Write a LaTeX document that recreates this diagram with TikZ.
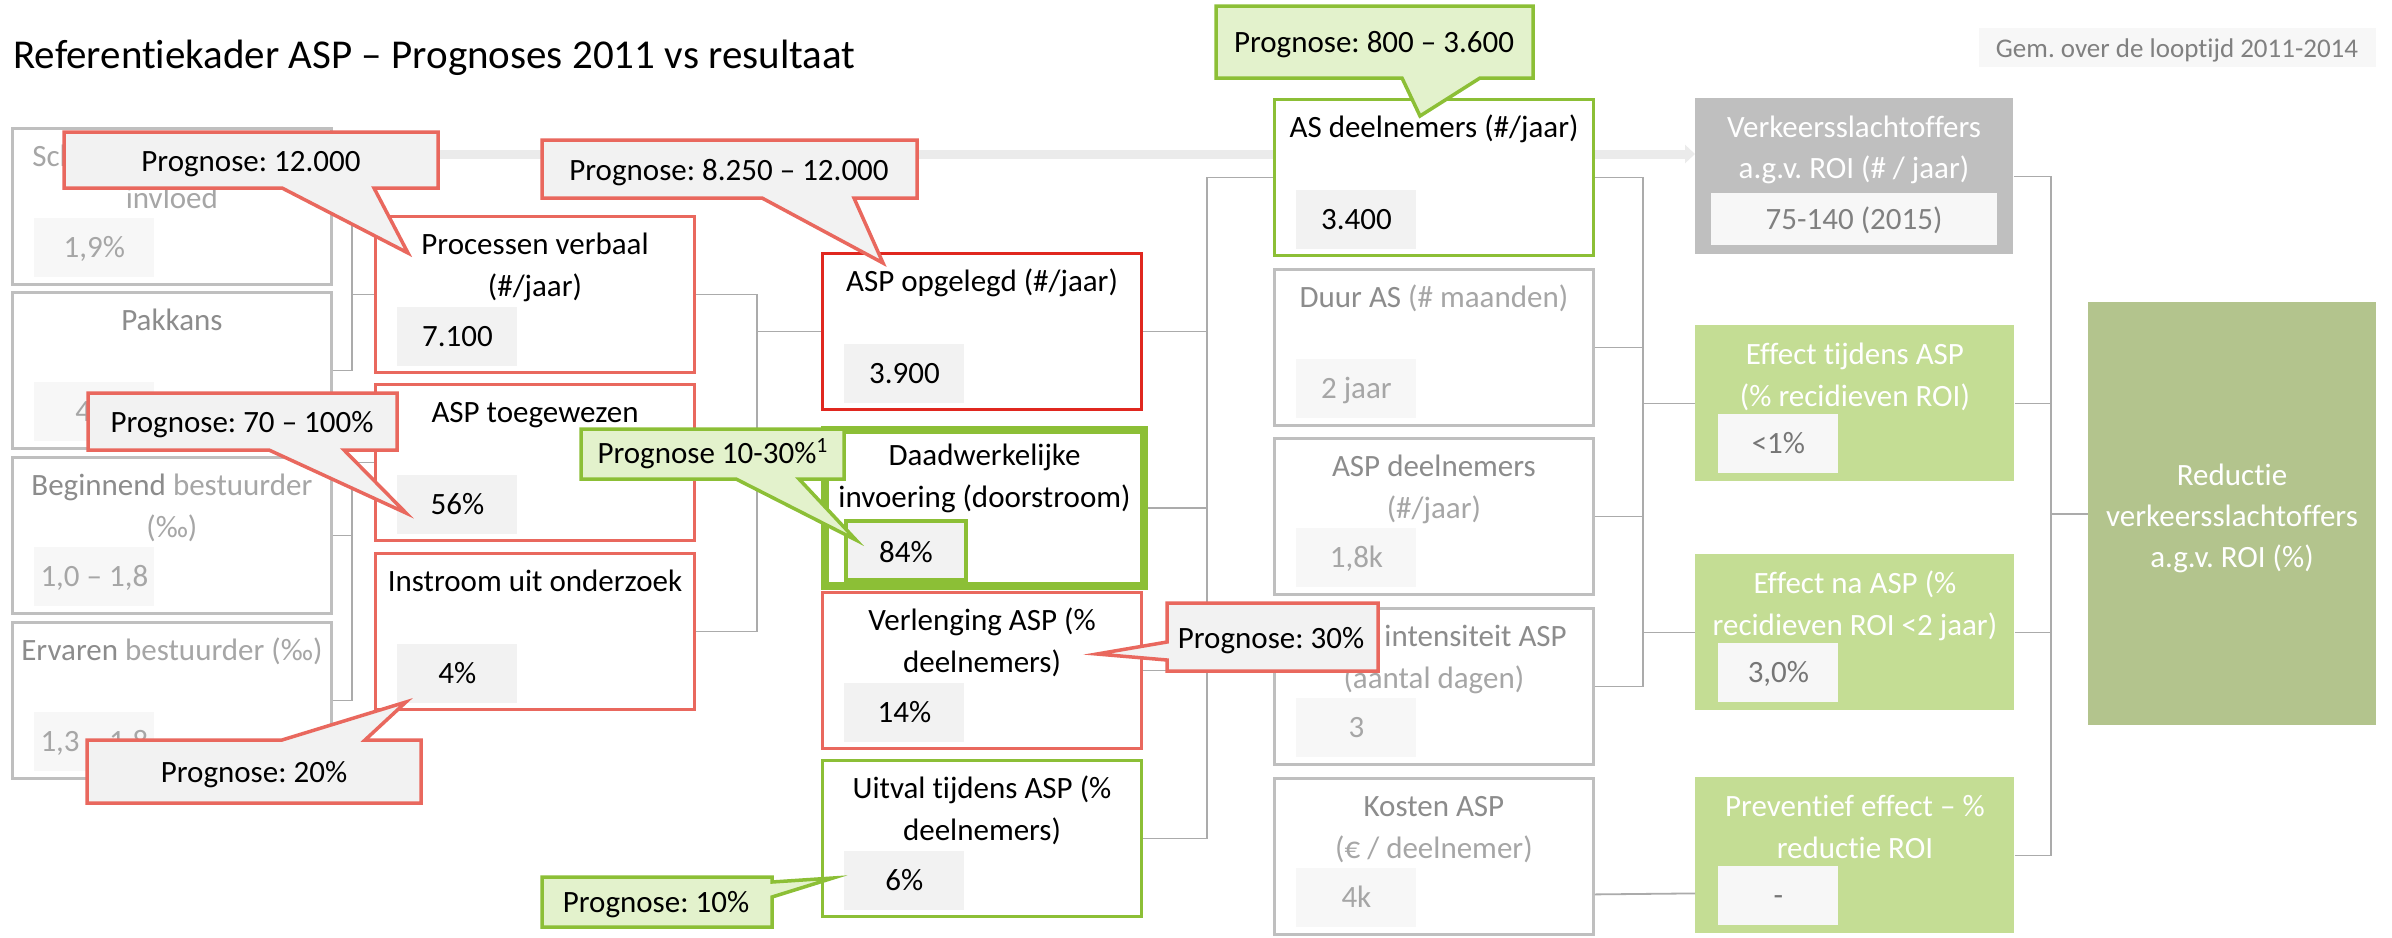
\documentclass[tikz,border=0pt]{standalone}
\usepackage{fontspec}
\setmainfont{Carlito}[Ligatures=NoCommon]
\usetikzlibrary{calc,arrows.meta}
\frenchspacing
\definecolor{bgray}{HTML}{BFBFBF}
\definecolor{lgray}{HTML}{A6A6A6}
\definecolor{dgray}{HTML}{8C8C8C}
\definecolor{cora}{HTML}{E9685E}
\definecolor{dred}{HTML}{E0271F}
\definecolor{grn}{HTML}{8CBF36}
\definecolor{cfill}{HTML}{F2F2F2}
\definecolor{vfill}{HTML}{F7F7F7}
\definecolor{gfill}{HTML}{E3F2CC}
\definecolor{effg}{HTML}{C4DD94}
\definecolor{redg}{HTML}{B3C48D}
\definecolor{linec}{HTML}{ABABAB}
\definecolor{barc}{HTML}{EBEBEB}
\definecolor{vtxt}{HTML}{767676}
\definecolor{legt}{HTML}{808080}
\newcommand{\kbox}[9]{%
  \node[#4, anchor=north west, minimum width=159.5pt, minimum height=78pt, inner sep=0pt] (#1) at (#2,#3) {};
  \node[anchor=base, inner sep=0pt, #8] (#1ta) at ($(#1.north)+(0,39)$) {#5};
  \node[anchor=base, inner sep=0pt, #8] (#1tb) at ($(#1.north)+(0,81)$) {#6};
  \node[anchor=south west, minimum width=60pt, minimum height=29.5pt, inner sep=0pt, #9] (#1v) at ($(#1.south west)+(23,-8)$) {};
  \node[anchor=base, inner sep=0pt, #9, fill=none, draw=none] (#1vt) at ($(#1v.south)+(0,-20)$) {#7};
}
\begin{document}
\begin{tikzpicture}[x=0.5pt,y=-0.5pt,
  font=\fontsize{15.5pt}{21pt}\selectfont,
  gb/.style={draw=bgray, line width=1.4pt, fill=white},
  rb/.style={draw=cora, line width=1.5pt, fill=white},
  drb/.style={draw=dred, line width=1.5pt, fill=white},
  grb/.style={draw=grn, line width=1.5pt, fill=white},
  thgrb/.style={draw=grn, line width=4pt, fill=white},
  effb/.style={fill=effg},
  tgray/.style={text=lgray},
  tblack/.style={text=black},
  twhite/.style={text=white},
  vg/.style={fill=vfill, text=lgray},
  vb/.style={fill=cfill, text=black},
  vbg/.style={fill=cfill, draw=grn, line width=2pt, text=black},
  vw/.style={fill=vfill, text=vtxt},
  conn/.style={draw=linec, line width=0.9pt},
  callr/.style={draw=cora, fill=cfill, line width=1.75pt},
  callgr/.style={draw=grn, fill=gfill, line width=1.75pt},
  barline/.style={draw=barc, line width=4.5pt, -{Triangle[length=5pt,width=9pt]}}
]
\useasboundingbox (0,0) rectangle (2392,937);
\fill[white] (0,0) rectangle (2392,937);

% title and legend
\node[anchor=base west, inner sep=0pt, font=\fontsize{20.5pt}{24pt}\selectfont] (title) at (13,68) {Referentiekader ASP – Prognoses 2011 vs resultaat};
\node[fill=vfill, anchor=north west, minimum width=198.5pt, minimum height=19.5pt, inner sep=0pt] (leg) at (1979,28) {};
\node[anchor=base, inner sep=0pt, text=legt, font=\fontsize{13.5pt}{16pt}\selectfont] (legt) at (2177,57) {Gem. over de looptijd 2011-2014};

% Verkeersslachtoffers box (needed for bar)
\node[fill=bgray, anchor=north west, minimum width=159pt, minimum height=78pt, inner sep=0pt] (vks) at (1695,98) {};

% background arrow bar
\coordinate (arrstart) at (340,154);
\draw[barline] (arrstart) -- (vks.west |- arrstart);

% boxes
\kbox{sch}{11}{127}{gb}{Schatting rijden onder}{invloed}{1,9\%}{tgray}{vg}
\kbox{pak}{11}{291}{gb}{\textcolor{dgray}{Pakkans}}{}{4\%}{tgray}{vg}
\kbox{beg}{11}{456}{gb}{\textcolor{dgray}{Beginnend} bestuurder}{(‰)}{1,0 – 1,8}{tgray}{vg}
\kbox{erv}{11}{621}{gb}{\textcolor{dgray}{Ervaren} bestuurder (‰)}{}{1,3 – 1,8}{tgray}{vg}

\kbox{pv}{374}{215}{rb}{Processen verbaal}{(\#/jaar)}{7.100}{tblack}{vb}
\kbox{toe}{374}{383}{rb}{ASP toegewezen}{}{56\%}{tblack}{vb}
\kbox{ins}{374}{552}{rb}{Instroom uit onderzoek}{}{4\%}{tblack}{vb}

\kbox{opg}{821}{252}{drb}{ASP opgelegd (\#/jaar)}{}{3.900}{tblack}{vb}
\kbox{daad}{821}{426}{thgrb}{Daadwerkelijke}{invoering (doorstroom)}{84\%}{tblack}{vbg}
\kbox{verl}{821}{591}{rb}{Verlenging ASP (\%}{deelnemers)}{14\%}{tblack}{vb}
\kbox{uitv}{821}{759}{grb}{Uitval tijdens ASP (\%}{deelnemers)}{6\%}{tblack}{vb}

\kbox{asd}{1273}{98}{grb}{AS deelnemers (\#/jaar)}{}{3.400}{tblack}{vb}
\kbox{duur}{1273}{268}{gb}{\textcolor{dgray}{Duur AS} (\# maanden)}{}{2 jaar}{tgray}{vg}
\kbox{aspd}{1273}{437}{gb}{\textcolor{dgray}{ASP deelnemers}}{(\#/jaar)}{1,8k}{tgray}{vg}
\kbox{bez}{1273}{607}{gb}{\textcolor{dgray}{Sessie intensiteit ASP}}{(aantal dagen)}{3}{tgray}{vg}
\kbox{kos}{1273}{777}{gb}{\textcolor{dgray}{Kosten ASP}}{(€ / deelnemer)}{4k}{tgray}{vg}

\kbox{efft}{1695}{325}{effb}{Effect tijdens ASP}{(\% recidieven ROI)}{<1\%}{twhite}{vw}
\kbox{effn}{1695}{554}{effb}{Effect na ASP (\%}{recidieven ROI <2 jaar)}{3,0\%}{twhite}{vw}
\kbox{prev}{1695}{777}{effb}{Preventief effect – \%}{reductie ROI}{-}{twhite}{vw}

% Verkeersslachtoffers texts
\node[anchor=base, inner sep=0pt, text=white] (vksta) at (1854,137) {Verkeersslachtoffers};
\node[anchor=base, inner sep=0pt, text=white] (vkstb) at (1854,178) {a.g.v. ROI (\# / jaar)};
\node[fill=vfill, anchor=north west, minimum width=143pt, minimum height=26pt, inner sep=0pt] (vksv) at (1711,193) {};
\node[anchor=base, inner sep=0pt, text=legt] (vksvt) at (1854,229) {75-140 (2015)};

% Reductie box
\node[fill=redg, anchor=north west, minimum width=144pt, minimum height=211.5pt, inner sep=0pt] (red) at (2088,302) {};
\node[anchor=base, inner sep=0pt, text=white] (redta) at (2232,485) {Reductie};
\node[anchor=base, inner sep=0pt, text=white] (redtb) at (2232,526) {verkeersslachtoffers};
\node[anchor=base, inner sep=0pt, text=white] (redtc) at (2232,567) {a.g.v. ROI (\%)};

% connectors
\coordinate (j1) at (352,0);
\coordinate (j2) at (757,0);
\coordinate (j3) at (1207,0);
\coordinate (j4) at (1643,0);
\coordinate (j5) at (2051,0);
\draw[conn] (sch.east) -- (sch.east -| j1) |- (pv.west);
\draw[conn] (pak.east) -- (pak.east -| j1) |- (pv.west);
\draw[conn] (beg.east) -- (beg.east -| j1) |- (toe.west);
\draw[conn] (erv.east) -- (erv.east -| j1) |- (toe.west);
\draw[conn] (pv.east) -- (pv.east -| j2) |- (opg.west);
\draw[conn] (toe.east) -- (toe.east -| j2) |- (opg.west);
\draw[conn] (ins.east) -- (ins.east -| j2) |- (opg.west);
\draw[conn] (opg.east) -- (opg.east -| j3) |- (asd.west);
\draw[conn] (daad.east) -- (daad.east -| j3) |- (asd.west);
\draw[conn] (verl.east) -- (verl.east -| j3) |- (asd.west);
\draw[conn] (uitv.east) -- (uitv.east -| j3) |- (asd.west);
\draw[conn] (asd.east) -- (asd.east -| j4) |- (efft.west);
\draw[conn] (duur.east) -- (duur.east -| j4) |- (effn.west);
\draw[conn] (aspd.east) -- (aspd.east -| j4) |- (effn.west);
\draw[conn] (bez.east) -- (bez.east -| j4) |- (effn.west);
\draw[conn] ([yshift=-19pt]kos.east) -- ([yshift=-19pt]prev.west);
\draw[conn] (vks.east) -- (vks.east -| j5) |- (red.west);
\draw[conn] (efft.east) -- (efft.east -| j5) |- (red.west);
\draw[conn] (effn.east) -- (effn.east -| j5) |- (red.west);
\draw[conn] (prev.east) -- (prev.east -| j5) |- (red.west);

% callouts
\draw[callr] (64,132) -- (438,132) -- (438,188) -- (374,188) -- (408,253) -- (282,188) -- (64,188) -- cycle;
\node[anchor=base, inner sep=0pt] (c1) at (251,171) {Prognose: 12.000};

\draw[callr] (542,140) -- (917,140) -- (917,198) -- (854,198) -- (883,263) -- (762,198) -- (542,198) -- cycle;
\node[anchor=base, inner sep=0pt] (c2) at (729,180) {Prognose: 8.250 – 12.000};

\draw[callr] (88,393) -- (397,393) -- (397,450) -- (344,450) -- (406,513) -- (269,450) -- (88,450) -- cycle;
\node[anchor=base, inner sep=0pt] (c3) at (242,432) {Prognose: 70 – 100\%};

\draw[callgr] (581,429) -- (844,429) -- (844,479) -- (799,479) -- (856,540) -- (736,479) -- (581,479) -- cycle;
\node[anchor=base, inner sep=0pt] (c4) at (713,463) {Prognose 10-30\%\textsuperscript{1}};

\draw[callr] (1167,603) -- (1378,603) -- (1378,671) -- (1167,671) -- (1167,660) -- (1097,654) -- (1167,642) -- cycle;
\node[anchor=base, inner sep=0pt] (c5) at (1271,648) {Prognose: 30\%};

\draw[callr] (87,740) -- (282,740) -- (406,702) -- (365,740) -- (421,740) -- (421,803) -- (87,803) -- cycle;
\node[anchor=base, inner sep=0pt] (c6) at (254,782) {Prognose: 20\%};

\draw[callgr] (542,877) -- (772,877) -- (772,882) -- (833,878) -- (772,897) -- (772,927) -- (542,927) -- cycle;
\node[anchor=base, inner sep=0pt] (c7) at (656,912) {Prognose: 10\%};

\draw[callgr] (1216,6) -- (1533,6) -- (1533,78) -- (1480,78) -- (1420,116) -- (1402,78) -- (1216,78) -- cycle;
\node[anchor=base, inner sep=0pt] (c8) at (1374,52) {Prognose: 800 – 3.600};
\end{tikzpicture}
\end{document}
